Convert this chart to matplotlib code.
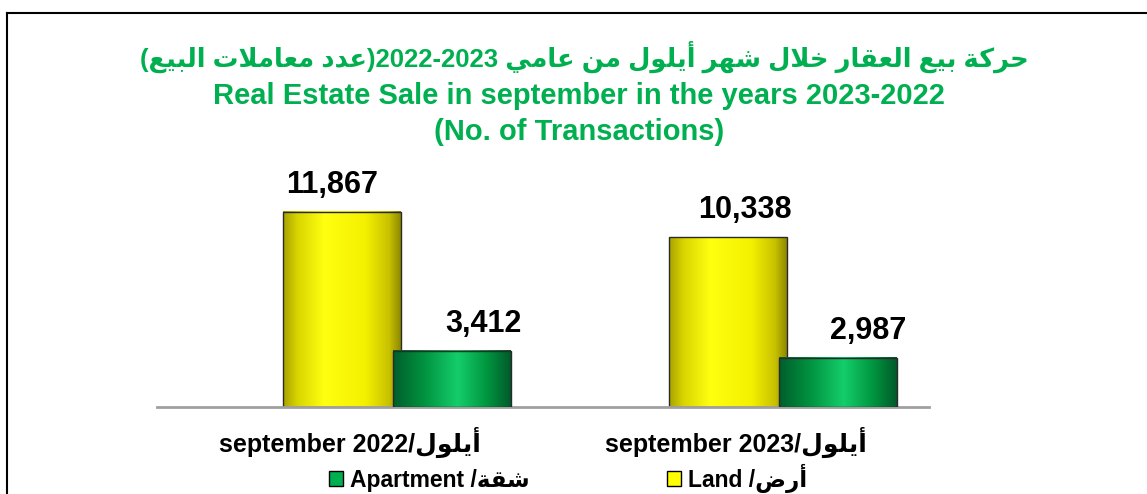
import numpy as np
import matplotlib
matplotlib.use("Agg")
import matplotlib.pyplot as plt
from matplotlib.colors import LinearSegmentedColormap
from matplotlib.patches import Patch
from matplotlib.lines import Line2D

plt.rcParams['font.family'] = ['Liberation Sans', 'DejaVu Sans']

# ---- data ----
months_ar = "أيلول"
month_labels = ["september 2022/", "september 2023/"]
land = [11867, 10338]
apartment = [3412, 2987]
series_en = ["Land /", "Apartment /"]
series_ar = ["أرض", "شقة"]
title_ar_a = "حركة بيع العقار خلال شهر أيلول من عامي"
title_ar_b = "عدد معاملات البيع"
title_years = "2022-2023"
title_en1 = "Real Estate Sale in september in the years 2023-2022"
title_en2 = "(No. of Transactions)"

# ---- tiny arabic shaper (matplotlib has no text shaping) ----
DUAL = {'ئ': 0xFE89, 'ب': 0xFE8F, 'ت': 0xFE95, 'ث': 0xFE99, 'ج': 0xFE9D, 'ح': 0xFEA1,
        'خ': 0xFEA5, 'س': 0xFEB1, 'ش': 0xFEB5, 'ص': 0xFEB9, 'ض': 0xFEBD, 'ط': 0xFEC1,
        'ظ': 0xFEC5, 'ع': 0xFEC9, 'غ': 0xFECD, 'ف': 0xFED1, 'ق': 0xFED5, 'ك': 0xFED9,
        'ل': 0xFEDD, 'م': 0xFEE1, 'ن': 0xFEE5, 'ه': 0xFEE9, 'ي': 0xFEF1}
RIGHT = {'آ': 0xFE81, 'أ': 0xFE83, 'ؤ': 0xFE85, 'إ': 0xFE87, 'ا': 0xFE8D, 'ة': 0xFE93,
         'د': 0xFEA9, 'ذ': 0xFEAB, 'ر': 0xFEAD, 'ز': 0xFEAF, 'و': 0xFEED, 'ى': 0xFEEF}
LAMALEF = {'آ': 0xFEF5, 'أ': 0xFEF7, 'إ': 0xFEF9, 'ا': 0xFEFB}


def ar(s):
    out = []
    i = 0
    n = len(s)
    while i < n:
        c = s[i]
        prev = i > 0 and s[i-1] in DUAL
        if c == 'ل' and i + 1 < n and s[i+1] in LAMALEF:
            out.append(chr(LAMALEF[s[i+1]] + (1 if prev else 0)))
            i += 2
            continue
        nxt = i + 1 < n and (s[i+1] in DUAL or s[i+1] in RIGHT)
        if c in DUAL:
            if prev and nxt:
                f = 3
            elif prev:
                f = 1
            elif nxt:
                f = 2
            else:
                f = 0
            out.append(chr(DUAL[c] + f))
        elif c in RIGHT:
            out.append(chr(RIGHT[c] + (1 if prev else 0)))
        else:
            out.append(c)
        i += 1
    return ''.join(out)[::-1]


W, H = 1147, 494
fig = plt.figure(figsize=(W/100, H/100), dpi=100)
px = 0.01644  # pixels per transaction
ymax = 15000
ax = fig.add_axes([157/W, 87/H, 772/W, ymax*px/H])

x = np.arange(len(land))
bw = 0.305
yel_cmap = LinearSegmentedColormap.from_list(
    "y", [(0, '#A8A200'), (0.12, '#D8D400'), (0.35, '#FFFF10'), (0.7, '#F4F000'),
          (0.9, '#C8C200'), (1, '#8E8800')])
grn_cmap = LinearSegmentedColormap.from_list(
    "g", [(0, '#005E2C'), (0.25, '#00903E'), (0.55, '#14CE6A'), (0.8, '#00953F'), (1, '#005A2A')])
grad = np.linspace(0, 1, 256).reshape(1, -1)

# label nudges in pixels (labels were hand-placed in the original)
for vals, off, cmap, z, nudge in [(land, -0.02, yel_cmap, 2, [-10, 17]),
                                  (apartment, 0.265, grn_cmap, 3, [31, 30])]:
    bars = ax.bar(x + off, vals, bw, color='none', edgecolor='#2a2a2a', linewidth=1.0, zorder=z + 0.5)
    for b in bars:
        x0, w, h = b.get_x(), b.get_width(), b.get_height()
        ax.imshow(grad, extent=[x0, x0 + w, 0, h], cmap=cmap, aspect='auto', zorder=z,
                  interpolation='bilinear')
    for b, v, dx in zip(bars, vals, nudge):
        ax.annotate(f"{v:,}", (b.get_x() + b.get_width()/2, v), xytext=(dx, 19),
                    textcoords='offset pixels', ha='center', va='baseline',
                    fontsize=22, fontweight='bold', color='black')

ax.set_xlim(-0.5, 1.5)
ax.set_ylim(0, ymax)
ax.set_yticks([])
ax.set_xticks(x)
ax.set_xticklabels([m + ar(months_ar) for m in month_labels], fontsize=18, fontweight='bold')
ax.tick_params(axis='x', length=0, pad=14)
for s in ['top', 'right', 'left']:
    ax.spines[s].set_visible(False)
ax.spines['bottom'].set_color('#A0A0A0')
ax.spines['bottom'].set_linewidth(2)
ax.patch.set_alpha(0)

# titles
green = '#00B050'
fig.text(584/W, 1 - 57/H, "(" + ar(title_ar_b) + ")" + title_years + " " + ar(title_ar_a),
         ha='center', va='center', fontsize=18.5, fontweight='bold', color=green)
fig.text(579/W, 1 - 104/H, title_en1, ha='center', va='baseline', fontsize=21,
         fontweight='bold', color=green)
fig.text(579/W, 1 - 140/H, title_en2, ha='center', va='baseline', fontsize=21,
         fontweight='bold', color=green)

# legend (right-to-left order)
handles = [Patch(facecolor='#00B050', edgecolor='black'), Patch(facecolor='#FFFF00', edgecolor='black')]
labels = [series_en[1] + ar(series_ar[1]), series_en[0] + ar(series_ar[0])]
fig.legend(handles, labels, loc='center', bbox_to_anchor=(568/W, 1 - 478/H), ncol=2,
           frameon=False, prop={'size': 16.5, 'weight': 'bold'}, columnspacing=6,
           handlelength=0.6, handleheight=0.6, handletextpad=0.3)

# outer border (cropped at right/bottom)
fig.add_artist(Line2D([7/W, 1], [1 - 13/H, 1 - 13/H], color='black', lw=1.5))
fig.add_artist(Line2D([7/W, 7/W], [0, 1 - 13/H], color='black', lw=1.5))

fig.savefig("out.png", dpi=100)
